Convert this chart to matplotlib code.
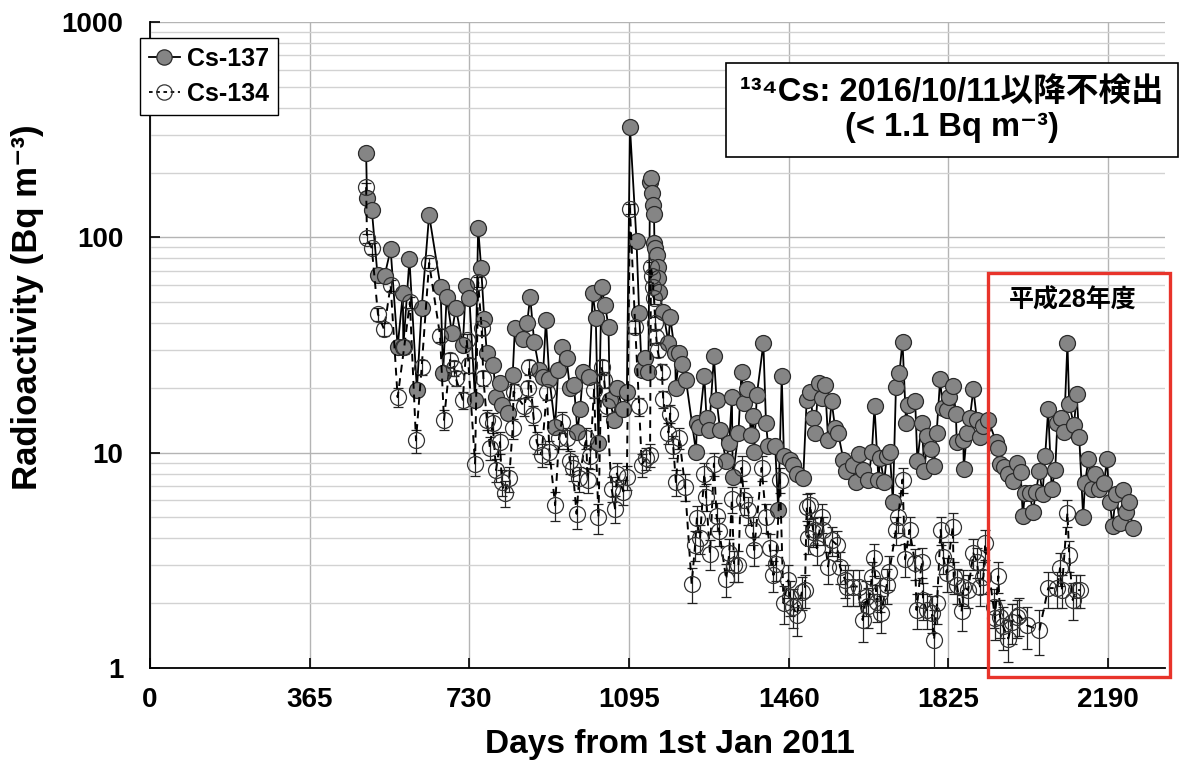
import matplotlib
matplotlib.use('Agg')
import matplotlib.pyplot as plt
from matplotlib.lines import Line2D
from matplotlib.patches import Rectangle
from matplotlib.ticker import LogLocator, NullFormatter, FixedLocator

# ---------------- data ----------------
x_ticks = [0, 365, 730, 1095, 1460, 1825, 2190]
y_ticks = [1, 10, 100, 1000]
y_tick_labels = ['1', '10', '100', '1000']

cs137_days = [494, 496, 507, 520, 536, 550, 566, 578, 579, 593, 610, 621, 638, 664, 670, 678, 690, 699, 715, 722,
              730, 743, 750, 757, 764, 770, 785, 790, 800, 804, 818, 829, 834, 853, 862, 869, 878, 890, 898, 905,
              913, 926, 933, 941, 952, 960, 969, 977, 983, 990, 1004, 1012, 1019, 1025, 1032, 1040, 1048, 1051, 1061, 1068,
              1080, 1090, 1097, 1112, 1118, 1124, 1131, 1139, 1143, 1146, 1148, 1150, 1152, 1153, 1155, 1158, 1160, 1162, 1164, 1173,
              1185, 1189, 1200, 1202, 1210, 1217, 1225, 1248, 1250, 1255, 1267, 1272, 1278, 1289, 1295, 1303, 1317, 1324, 1330, 1332,
              1345, 1352, 1358, 1365, 1374, 1378, 1381, 1387, 1402, 1408, 1413, 1429, 1436, 1444, 1449, 1463, 1470, 1478, 1493, 1501,
              1509, 1515, 1520, 1528, 1535, 1543, 1550, 1558, 1566, 1573, 1585, 1591, 1606, 1614, 1621, 1630, 1642, 1650, 1656, 1665,
              1669, 1678, 1684, 1691, 1698, 1705, 1713, 1720, 1728, 1733, 1749, 1754, 1764, 1770, 1777, 1784, 1792, 1798, 1806, 1812,
              1821, 1827, 1835, 1842, 1844, 1859, 1860, 1867, 1874, 1882, 1890, 1897, 1905, 1916, 1934, 1939, 1943, 1952, 1962, 1973,
              1982, 1990, 1995, 2000, 2011, 2018, 2025, 2033, 2040, 2046, 2053, 2061, 2069, 2074, 2082, 2089, 2097, 2101, 2112, 2118,
              2124, 2133, 2137, 2145, 2152, 2160, 2170, 2181, 2187, 2194, 2200, 2208, 2217, 2225, 2231, 2238, 2246]
cs137_vals = [247, 153, 134, 67, 66, 88, 31, 55, 31, 79, 19.6, 47, 127, 59, 23.4, 53, 36, 47, 31.6, 59.5,
              52.5, 17.6, 111, 72, 41.6, 29, 25.5, 18.2, 21, 16.7, 15.3, 23, 37.8, 33.6, 40, 53, 32.8, 24.2, 22.5, 41.3,
              21.9, 13.2, 24.2, 31, 27.4, 19.9, 20.6, 12.5, 15.9, 23.8, 22.5, 55, 42, 11.1, 58.6, 48.5, 38.5, 17.6, 14.2, 19.9,
              15.9, 19.2, 327, 96.6, 44.7, 24.2, 27.4, 23.8, 180, 188, 160, 141, 129, 94, 89, 83, 73, 65, 56, 45,
              32.4, 42.8, 29, 19.9, 29.1, 25.8, 21.8, 10.1, 13.7, 13.2, 22.7, 14.5, 12.7, 28.1, 17.6, 12.8, 9.1, 11.1, 18.2, 7.7,
              12.3, 23.8, 17, 19.7, 12.1, 14.8, 10.1, 18.5, 32.2, 13.7, 10.7, 10.7, 5.4, 22.7, 9.6, 9.25, 8.8, 8.0, 7.6, 17.6,
              19.2, 14.5, 12.3, 21, 17.9, 20.6, 11.5, 17.3, 13, 12.3, 9.25, 8.2, 8.8, 7.3, 9.9, 8.3, 7.5, 10.1, 16.4, 7.5,
              9.4, 7.3, 9.6, 10.1, 5.9, 20.1, 23.5, 32.8, 13.8, 16.7, 17.3, 9.1, 13.8, 8.2, 11.9, 10.4, 8.7, 12.3, 21.9, 16.1,
              15.8, 18.2, 20.4, 15.2, 11.2, 11.5, 8.4, 12.3, 14.5, 19.7, 14.2, 11.8, 13.3, 14.2, 11.2, 10.5, 8.9, 8.6, 8.0, 7.4,
              9.0, 8.1, 5.1, 6.5, 6.5, 5.3, 6.6, 8.2, 6.4, 9.6, 15.9, 6.8, 8.3, 13.7, 14.5, 12.5, 32.4, 16.8, 13.4, 18.7,
              11.8, 5.0, 7.2, 9.3, 6.8, 8.0, 6.8, 7.2, 9.3, 5.9, 4.57, 6.4, 4.73, 6.7, 5.3, 5.9, 4.46]

cs134_days = [494, 496, 507, 521, 535, 550, 566, 581, 594, 608, 621, 638, 663, 672, 686, 695, 699, 715, 724, 728,
              743, 750, 758, 762, 770, 777, 783, 791, 800, 804, 811, 821, 829, 831, 855, 865, 867, 876, 884, 895,
              907, 913, 926, 935, 941, 952, 960, 966, 975, 981, 997, 1000, 1006, 1015, 1025, 1032, 1038, 1044, 1055, 1063,
              1067, 1082, 1090, 1097, 1109, 1118, 1124, 1134, 1143, 1145, 1148, 1150, 1152, 1155, 1157, 1160, 1170, 1173, 1185, 1189,
              1196, 1202, 1210, 1223, 1238, 1246, 1250, 1257, 1267, 1271, 1280, 1289, 1295, 1301, 1317, 1324, 1330, 1335, 1345, 1352,
              1358, 1367, 1378, 1381, 1398, 1408, 1417, 1425, 1431, 1440, 1448, 1459, 1463, 1470, 1478, 1490, 1497, 1501, 1505, 1509,
              1516, 1520, 1524, 1535, 1539, 1550, 1558, 1570, 1577, 1589, 1592, 1606, 1621, 1629, 1637, 1642, 1650, 1655, 1661, 1669,
              1671, 1684, 1690, 1705, 1710, 1720, 1726, 1736, 1749, 1752, 1764, 1767, 1775, 1787, 1792, 1799, 1807, 1813, 1821, 1835,
              1837, 1844, 1855, 1859, 1870, 1882, 1890, 1897, 1905, 1909, 1928, 1931, 1939, 1943, 1950, 1962, 1970, 1981, 1987, 2004,
              2033, 2053, 2074, 2080, 2084, 2097, 2101, 2109, 2117, 2126]
cs134_vals = [171, 99, 89, 44, 37.4, 60, 18.1, 30.9, 50, 11.4, 25, 76, 35, 14.2, 27, 24.7, 22.2, 17.6, 33.4, 25.5,
              8.9, 62, 37.8, 22.2, 14.2, 10.5, 13.8, 8.3, 11.2, 7.3, 6.5, 7.6, 13, 19.2, 16.4, 19.9, 25, 15, 11.2, 9.8,
              19.2, 10.1, 5.7, 11.7, 13.9, 11.7, 9.1, 8.5, 5.2, 7.6, 11.7, 7.5, 9.6, 19.6, 5.0, 25, 21.8, 16.4, 6.8, 5.5,
              8.0, 6.6, 7.7, 136, 38.5, 16.4, 8.8, 9.4, 9.8, 73, 66, 59, 52, 40, 34.6, 30, 23.8, 17.7, 12.4, 15.2,
              10.7, 7.3, 11.7, 6.95, 2.45, 3.73, 4.96, 4.0, 8.0, 6.25, 3.39, 8.9, 5.1, 4.34, 2.58, 3.41, 6.1, 3.0, 3.0, 8.5,
              6.0, 5.4, 4.38, 3.53, 8.5, 5.0, 3.6, 2.7, 3.04, 7.5, 2.0, 2.56, 2.14, 1.93, 1.76, 2.26, 2.30, 5.6, 4.0, 5.7,
              4.3, 4.38, 3.6, 5.0, 4.38, 2.96, 3.93, 3.73, 2.96, 2.56, 2.39, 2.39, 2.39, 1.67, 2.14, 1.94, 2.66, 3.23, 2.03, 2.22,
              1.80, 2.43, 2.8, 4.38, 5.0, 7.5, 3.2, 4.38, 3.06, 1.86, 3.12, 2.07, 1.86, 1.80, 1.35, 2.0, 4.38, 3.29, 2.75, 4.53,
              2.66, 2.43, 1.83, 2.39, 2.30, 3.41, 3.12, 2.39, 2.66, 3.79, 1.93, 1.70, 2.67, 1.73, 1.56, 1.37, 1.64, 1.73, 1.76, 1.58,
              1.50, 2.35, 2.35, 2.91, 2.30, 5.27, 3.35, 2.07, 2.30, 2.30]
cs134_errs = [8, 5, 5, 3, 2.5, 3.5, 1.8, 2.2, 3, 1.4, 2, 4, 2.5, 1.5, 2, 2, 1.8, 1.6, 2.3, 2,
              1.1, 3.5, 2.5, 1.8, 1.5, 1.3, 1.5, 1.0, 1.3, 1.0, 0.9, 1.0, 1.4, 1.7, 1.6, 1.7, 2, 1.5, 1.3, 1.2,
              1.7, 1.2, 0.9, 1.3, 1.5, 1.3, 1.1, 1.1, 0.8, 1.0, 1.3, 1.0, 1.2, 1.7, 0.8, 2, 1.8, 1.6, 0.9, 0.8,
              1.0, 0.9, 1.0, 7, 2.5, 1.6, 1.1, 1.1, 1.2, 4, 3.8, 3.5, 3, 2.6, 2.4, 2.2, 1.9, 1.6, 1.4, 1.5,
              1.3, 1.0, 1.3, 1.0, 0.45, 0.6, 0.7, 0.6, 1.0, 0.9, 0.55, 1.1, 0.75, 0.65, 0.45, 0.55, 0.85, 0.5, 0.5, 1.1,
              0.85, 0.8, 0.65, 0.55, 1.1, 0.75, 0.6, 0.45, 0.5, 1.0, 0.4, 0.45, 0.4, 0.4, 0.35, 0.4, 0.4, 0.8, 0.6, 0.8,
              0.65, 0.65, 0.6, 0.75, 0.65, 0.5, 0.6, 0.6, 0.5, 0.45, 0.45, 0.45, 0.45, 0.35, 0.4, 0.4, 0.45, 0.55, 0.4, 0.4,
              0.35, 0.45, 0.5, 0.65, 0.75, 1.0, 0.55, 0.65, 0.5, 0.35, 0.5, 0.4, 0.35, 0.35, 0.5, 0.4, 0.65, 0.55, 0.5, 0.7,
              0.45, 0.45, 0.35, 0.45, 0.4, 0.55, 0.5, 0.45, 0.45, 0.6, 0.4, 0.35, 0.45, 0.35, 0.35, 0.3, 0.35, 0.35, 0.35, 0.35,
              0.35, 0.45, 0.45, 0.5, 0.4, 0.75, 0.55, 0.4, 0.4, 0.4]

assert len(cs137_days) == len(cs137_vals)
assert len(cs134_days) == len(cs134_vals) == len(cs134_errs)

# ---------------- style ----------------
plt.rcParams['font.family'] = ['Liberation Sans', 'Noto Sans CJK JP', 'DejaVu Sans']
plt.rcParams['font.weight'] = 'bold'

W, H = 1197, 763
fig = plt.figure(figsize=(W / 100, H / 100), dpi=100)
ax = fig.add_axes([150 / W, 1 - 668 / H, 1015 / W, 646 / H])

ax.set_yscale('log')
ax.set_xlim(0, 2320)
ax.set_ylim(1, 1000)
ax.xaxis.set_major_locator(FixedLocator(x_ticks))
ax.set_xticklabels([str(t) for t in x_ticks])
ax.yaxis.set_major_locator(FixedLocator(y_ticks))
ax.set_yticklabels(y_tick_labels)
ax.yaxis.set_minor_locator(LogLocator(base=10, subs=range(2, 10)))
ax.yaxis.set_minor_formatter(NullFormatter())

ax.grid(which='major', color='#b4b4b4', lw=1.0)
ax.grid(which='minor', axis='y', color='#d2d2d2', lw=1.0)
ax.set_axisbelow(True)
for s in ('top', 'right'):
    ax.spines[s].set_visible(False)
for s in ('left', 'bottom'):
    ax.spines[s].set_linewidth(1.3)
ax.tick_params(which='major', direction='in', length=7, width=1.2, labelsize=20)
ax.tick_params(axis='y', which='major', pad=19)
ax.tick_params(axis='x', which='major', pad=14)
ax.tick_params(which='minor', length=0)

# Cs-134 error bars
ax.errorbar(cs134_days, cs134_vals, yerr=cs134_errs, fmt='none', ecolor='#222222',
            elinewidth=0.9, capsize=3.5, capthick=0.9, zorder=3)
# Cs-137
ax.plot(cs137_days, cs137_vals, color='black', lw=1.3, marker='o', ms=11.5,
        mfc='#858585', mec='#2a2a2a', mew=0.9, zorder=4)
# Cs-134
ax.plot(cs134_days, cs134_vals, color='black', lw=1.4, ls=(0, (4, 3)), marker='o', ms=11.5,
        mfc='none', mec='#333333', mew=0.9, zorder=5)

# Legend
h1 = Line2D([], [], color='black', lw=1.3, marker='o', ms=11, mfc='#858585', mec='#2a2a2a', mew=0.9)
h2 = Line2D([], [], color='black', lw=1.3, ls=(0, (2, 2)), marker='o', ms=11, mfc='none', mec='#333333', mew=0.9)
leg = fig.legend([h1, h2], ['Cs-137', 'Cs-134'], loc='upper left',
                 bbox_to_anchor=(140 / W, 1 - 38 / H), frameon=True, fancybox=False,
                 edgecolor='black', framealpha=1, prop={'size': 18, 'weight': 'bold'},
                 handlelength=1.25, handletextpad=0.3, borderpad=0.35, labelspacing=0.45,
                 borderaxespad=0)
leg.get_frame().set_linewidth(1.0)

# Annotation box
fig.text(952 / W, 1 - 110 / H, '\u00b9\u00b3\u2074Cs: 2016/10/11以降不検出\n(< 1.1 Bq m\u207b\u00b3)',
         ha='center', va='center', fontsize=23.5, fontweight='bold', linespacing=1.2,
         bbox=dict(boxstyle='square,pad=0.42', fc='white', ec='black', lw=1.2))

# Red frame for FY2016
ax.add_patch(Rectangle((1916, 0.908), 2332 - 1916, 68.4 - 0.908, fill=False,
                       ec='#e8332a', lw=2.4, clip_on=False, zorder=6))
ax.text(2108, 51.2, '平成28年度', ha='center', va='center', fontsize=18, fontweight='bold', zorder=7)

# Axis labels
fig.text(670 / W, 1 - 745 / H, 'Days from 1st Jan 2011', ha='center', va='center',
         fontsize=24, fontweight='bold')
fig.text(28 / W, 1 - 307 / H, 'Radioactivity (Bq m\u207b\u00b3)', ha='center', va='center',
         rotation=90, fontsize=25, fontweight='bold')

fig.savefig('out.png', dpi=100)
